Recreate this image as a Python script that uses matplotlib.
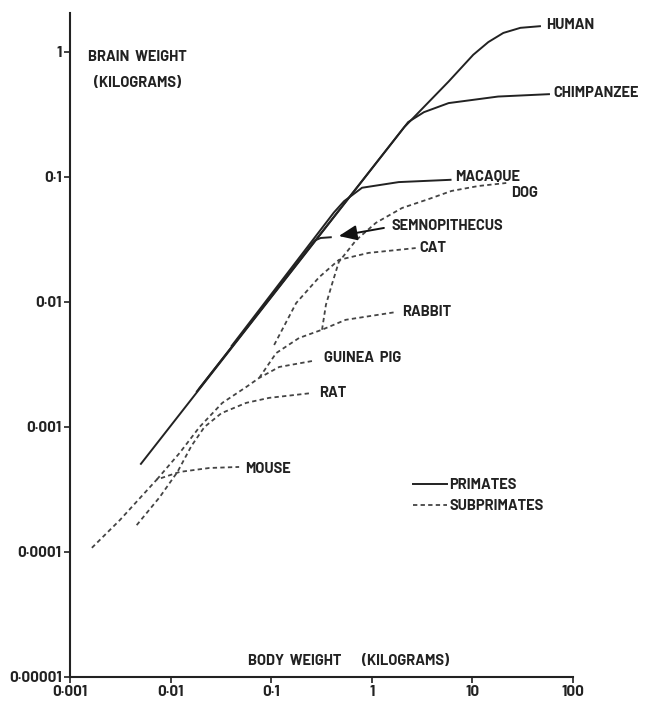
import matplotlib
matplotlib.use("Agg")
import matplotlib.pyplot as plt
from matplotlib import font_manager
from matplotlib.lines import Line2D
from matplotlib.ticker import NullLocator

# growth curves: body weight (kg) against brain weight (kg)
human_body = [0.005, 2.1, 5.8, 10.2, 14.4, 20.3, 30, 48]
human_brain = [0.0005, 0.25, 0.58, 0.95, 1.2, 1.42, 1.56, 1.61]

chimp_body = [0.018, 2.3, 3.3, 5.8, 18, 59]
chimp_brain = [0.0019, 0.275, 0.33, 0.39, 0.44, 0.46]

macaque_body = [0.04, 0.42, 0.53, 0.8, 1.85, 6.2]
macaque_brain = [0.0044, 0.052, 0.064, 0.082, 0.091, 0.095]

semno_body = [0.019, 0.27, 0.31, 0.40]
semno_brain = [0.002, 0.031, 0.0325, 0.033]

dog_body = [0.32, 0.35, 0.40, 0.47, 0.70, 1.1, 2.0, 3.7, 6.2, 11.5, 21.7]
dog_brain = [0.006, 0.0095, 0.0137, 0.0209, 0.0313, 0.043, 0.0565, 0.0667, 0.0773, 0.0847, 0.0895]

cat_body = [0.107, 0.177, 0.30, 0.47, 0.93, 2.73]
cat_brain = [0.00453, 0.0098, 0.0158, 0.0217, 0.0247, 0.027]

rabbit_body = [0.076, 0.112, 0.189, 0.32, 0.55, 1.73]
rabbit_brain = [0.00247, 0.0039, 0.00515, 0.006, 0.0072, 0.0083]

guinea_body = [0.0073, 0.0123, 0.0194, 0.0327, 0.0565, 0.076, 0.12, 0.255]
guinea_brain = [0.00038, 0.00062, 0.001, 0.00156, 0.00209, 0.00247, 0.00302, 0.00337]

rat_body = [0.0046, 0.0078, 0.0117, 0.0161, 0.0217, 0.032, 0.0565, 0.0955, 0.255]
rat_brain = [0.000164, 0.000275, 0.000437, 0.000705, 0.001, 0.00129, 0.00156, 0.00171, 0.00187]

mouse_body = [0.00165, 0.00313, 0.0073, 0.0123, 0.0243, 0.048]
mouse_brain = [0.000108, 0.00018, 0.00038, 0.000437, 0.00047, 0.000479]

x_ticks = [0.001, 0.01, 0.1, 1, 10, 100]
x_tick_labels = ["0·001", "0·01", "0·1", "1", "10", "100"]
y_ticks = [0.00001, 0.0001, 0.001, 0.01, 0.1, 1]
y_tick_labels = ["0·00001", "0·0001", "0·001", "0·01", "0·1", "1"]

INK = "#222222"
DASH_INK = "#444444"
DASH = (0, (2.4, 1.8))

# lettering like the original stencil; fall back to DejaVu if missing
names = {f.name for f in font_manager.fontManager.ttflist}
if "Barlow" in names:
    FAMILY, SIZE = ["Barlow", "DejaVu Sans"], 10.5
elif "Barlow Semi Condensed" in names:
    FAMILY, SIZE = ["Barlow Semi Condensed", "DejaVu Sans"], 11.5
else:
    FAMILY, SIZE = ["DejaVu Sans"], 8.5

fig = plt.figure(figsize=(6.48, 7.04), dpi=100)
ax = fig.add_axes([70 / 648, 27 / 704, 503 / 648, 664 / 704])
ax.set_xscale("log")
ax.set_yscale("log")
ax.set_xlim(0.001, 100)
ax.set_ylim(1e-5, 2.05)

font = dict(family=FAMILY, weight="bold", size=SIZE, color=INK)

primates = [
    (human_body, human_brain, "HUMAN", (5, 1)),
    (chimp_body, chimp_brain, "CHIMPANZEE", (3, 1)),
    (macaque_body, macaque_brain, "MACAQUE", (4, 3)),
    (semno_body, semno_brain, None, None),
]
subprimates = [
    (dog_body, dog_brain, "DOG", (5, -10)),
    (cat_body, cat_brain, "CAT", (4, 0)),
    (rabbit_body, rabbit_brain, "RABBIT", (6, 0)),
    (guinea_body, guinea_brain, "GUINEA  PIG", (12, 3)),
    (rat_body, rat_brain, "RAT", (7, 0)),
    (mouse_body, mouse_brain, "MOUSE", (6, -2)),
]

for body, brain, name, off in primates:
    ax.plot(body, brain, color=INK, lw=1.4, solid_capstyle="butt", solid_joinstyle="round")
    if name:
        ax.annotate(name, (body[-1], brain[-1]), xytext=off, textcoords="offset pixels",
                    ha="left", va="center", **font)

for body, brain, name, off in subprimates:
    ax.plot(body, brain, color=DASH_INK, lw=1.3, linestyle=DASH)
    ax.annotate(name, (body[-1], brain[-1]), xytext=off, textcoords="offset pixels",
                ha="left", va="center", **font)

# arrow pointing at the end of the semnopithecus curve
ax.annotate("", xy=(0.47, 0.0337), xytext=(1.32, 0.0391),
            arrowprops=dict(arrowstyle="-|>,head_length=0.55,head_width=0.23",
                            color="#111111", lw=1.4, shrinkA=0, shrinkB=0,
                            mutation_scale=20))
ax.annotate("SEMNOPITHECUS", (1.32, 0.0391), xytext=(8, 2), textcoords="offset pixels",
            ha="left", va="center", **font)

# axis titles sit inside the plot, as in the original
ax.text(88 / 648, 1 - 57 / 704, "BRAIN  WEIGHT", transform=fig.transFigure,
        ha="left", va="center", **font)
ax.text(94 / 648, 1 - 83 / 704, "(KILOGRAMS)", transform=fig.transFigure,
        ha="left", va="center", **font)
ax.text(248 / 648, 1 - 661 / 704, "BODY  WEIGHT", transform=fig.transFigure,
        ha="left", va="center", **font)
ax.text(362 / 648, 1 - 661 / 704, "(KILOGRAMS)", transform=fig.transFigure,
        ha="left", va="center", **font)

handles = [Line2D([], [], color=INK, lw=1.4),
           Line2D([], [], color=DASH_INK, lw=1.3, linestyle=DASH)]
leg = ax.legend(handles, ["PRIMATES", "SUBPRIMATES"], loc="upper left",
                bbox_to_anchor=(413 / 648, 1 - 478 / 704), bbox_transform=fig.transFigure,
                frameon=False, borderpad=0, borderaxespad=0, handlelength=2.3,
                handletextpad=0.2, labelspacing=0.5,
                prop=dict(family=FAMILY, weight="bold", size=SIZE))
for t in leg.get_texts():
    t.set_color(INK)

ax.xaxis.set_minor_locator(NullLocator())
ax.yaxis.set_minor_locator(NullLocator())
ax.set_xticks(x_ticks)
ax.set_xticklabels(x_tick_labels)
ax.set_yticks(y_ticks)
ax.set_yticklabels(y_tick_labels)
ax.tick_params(direction="out", length=4, width=1.2, colors=INK, pad=2)
for lab in ax.get_xticklabels() + ax.get_yticklabels():
    lab.set_fontfamily(FAMILY)
    lab.set_fontsize(SIZE + 0.5)
    lab.set_fontweight("bold")

for side in ("top", "right"):
    ax.spines[side].set_visible(False)
for side in ("left", "bottom"):
    ax.spines[side].set_linewidth(1.5)
    ax.spines[side].set_color(INK)

fig.savefig("out.png", dpi=100, facecolor="white")
